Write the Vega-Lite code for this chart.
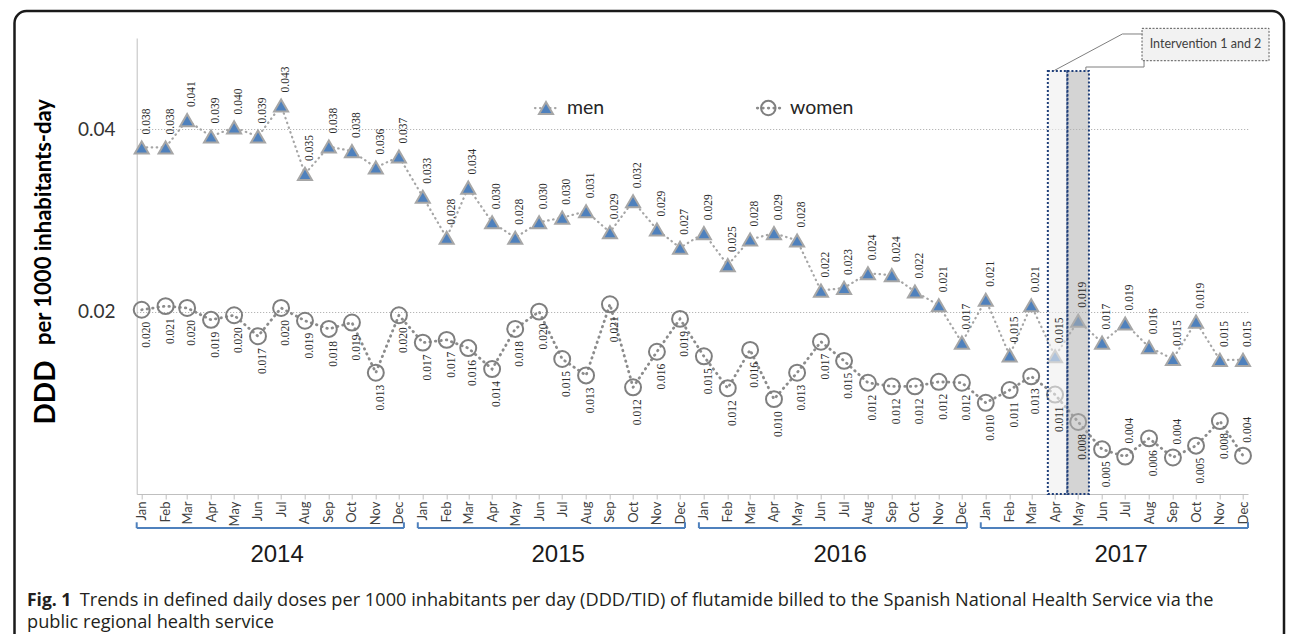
{
  "$schema": "https://vega.github.io/schema/vega-lite/v6.json",
  "width": 1111.3,
  "height": 456,
  "autosize": {"type": "none"},
  "padding": {"left": 136.7, "top": 38, "right": 44, "bottom": 140},
  "background": "white",
  "config": {"view": {"stroke": null}, "font": "Lato"},
  "datasets": {
    "ddd": [
      {"month": "2014-01-01", "sex": "men", "value": 0.0380},
      {"month": "2014-02-01", "sex": "men", "value": 0.0380},
      {"month": "2014-03-01", "sex": "men", "value": 0.0410},
      {"month": "2014-04-01", "sex": "men", "value": 0.0392},
      {"month": "2014-05-01", "sex": "men", "value": 0.0402},
      {"month": "2014-06-01", "sex": "men", "value": 0.0392},
      {"month": "2014-07-01", "sex": "men", "value": 0.0426},
      {"month": "2014-08-01", "sex": "men", "value": 0.0351},
      {"month": "2014-09-01", "sex": "men", "value": 0.0381},
      {"month": "2014-10-01", "sex": "men", "value": 0.0376},
      {"month": "2014-11-01", "sex": "men", "value": 0.0358},
      {"month": "2014-12-01", "sex": "men", "value": 0.0370},
      {"month": "2015-01-01", "sex": "men", "value": 0.0326},
      {"month": "2015-02-01", "sex": "men", "value": 0.0281},
      {"month": "2015-03-01", "sex": "men", "value": 0.0336},
      {"month": "2015-04-01", "sex": "men", "value": 0.0298},
      {"month": "2015-05-01", "sex": "men", "value": 0.0281},
      {"month": "2015-06-01", "sex": "men", "value": 0.0298},
      {"month": "2015-07-01", "sex": "men", "value": 0.0303},
      {"month": "2015-08-01", "sex": "men", "value": 0.0310},
      {"month": "2015-09-01", "sex": "men", "value": 0.0287},
      {"month": "2015-10-01", "sex": "men", "value": 0.0321},
      {"month": "2015-11-01", "sex": "men", "value": 0.0290},
      {"month": "2015-12-01", "sex": "men", "value": 0.0270},
      {"month": "2016-01-01", "sex": "men", "value": 0.0286},
      {"month": "2016-02-01", "sex": "men", "value": 0.0251},
      {"month": "2016-03-01", "sex": "men", "value": 0.0279},
      {"month": "2016-04-01", "sex": "men", "value": 0.0286},
      {"month": "2016-05-01", "sex": "men", "value": 0.0278},
      {"month": "2016-06-01", "sex": "men", "value": 0.0223},
      {"month": "2016-07-01", "sex": "men", "value": 0.0226},
      {"month": "2016-08-01", "sex": "men", "value": 0.0242},
      {"month": "2016-09-01", "sex": "men", "value": 0.0240},
      {"month": "2016-10-01", "sex": "men", "value": 0.0222},
      {"month": "2016-11-01", "sex": "men", "value": 0.0207},
      {"month": "2016-12-01", "sex": "men", "value": 0.0166},
      {"month": "2017-01-01", "sex": "men", "value": 0.0213},
      {"month": "2017-02-01", "sex": "men", "value": 0.0152},
      {"month": "2017-03-01", "sex": "men", "value": 0.0207},
      {"month": "2017-04-01", "sex": "men", "value": 0.0151},
      {"month": "2017-05-01", "sex": "men", "value": 0.0190},
      {"month": "2017-06-01", "sex": "men", "value": 0.0166},
      {"month": "2017-07-01", "sex": "men", "value": 0.0187},
      {"month": "2017-08-01", "sex": "men", "value": 0.0161},
      {"month": "2017-09-01", "sex": "men", "value": 0.0148},
      {"month": "2017-10-01", "sex": "men", "value": 0.0189},
      {"month": "2017-11-01", "sex": "men", "value": 0.0147},
      {"month": "2017-12-01", "sex": "men", "value": 0.0147},
      {"month": "2014-01-01", "sex": "women", "value": 0.0202},
      {"month": "2014-02-01", "sex": "women", "value": 0.0206},
      {"month": "2014-03-01", "sex": "women", "value": 0.0204},
      {"month": "2014-04-01", "sex": "women", "value": 0.0191},
      {"month": "2014-05-01", "sex": "women", "value": 0.0196},
      {"month": "2014-06-01", "sex": "women", "value": 0.0173},
      {"month": "2014-07-01", "sex": "women", "value": 0.0204},
      {"month": "2014-08-01", "sex": "women", "value": 0.0190},
      {"month": "2014-09-01", "sex": "women", "value": 0.0181},
      {"month": "2014-10-01", "sex": "women", "value": 0.0188},
      {"month": "2014-11-01", "sex": "women", "value": 0.0133},
      {"month": "2014-12-01", "sex": "women", "value": 0.0196},
      {"month": "2015-01-01", "sex": "women", "value": 0.0166},
      {"month": "2015-02-01", "sex": "women", "value": 0.0169},
      {"month": "2015-03-01", "sex": "women", "value": 0.0160},
      {"month": "2015-04-01", "sex": "women", "value": 0.0137},
      {"month": "2015-05-01", "sex": "women", "value": 0.0181},
      {"month": "2015-06-01", "sex": "women", "value": 0.0200},
      {"month": "2015-07-01", "sex": "women", "value": 0.0148},
      {"month": "2015-08-01", "sex": "women", "value": 0.0130},
      {"month": "2015-09-01", "sex": "women", "value": 0.0208},
      {"month": "2015-10-01", "sex": "women", "value": 0.0117},
      {"month": "2015-11-01", "sex": "women", "value": 0.0156},
      {"month": "2015-12-01", "sex": "women", "value": 0.0192},
      {"month": "2016-01-01", "sex": "women", "value": 0.0151},
      {"month": "2016-02-01", "sex": "women", "value": 0.0116},
      {"month": "2016-03-01", "sex": "women", "value": 0.0158},
      {"month": "2016-04-01", "sex": "women", "value": 0.0104},
      {"month": "2016-05-01", "sex": "women", "value": 0.0133},
      {"month": "2016-06-01", "sex": "women", "value": 0.0167},
      {"month": "2016-07-01", "sex": "women", "value": 0.0146},
      {"month": "2016-08-01", "sex": "women", "value": 0.0122},
      {"month": "2016-09-01", "sex": "women", "value": 0.0118},
      {"month": "2016-10-01", "sex": "women", "value": 0.0118},
      {"month": "2016-11-01", "sex": "women", "value": 0.0123},
      {"month": "2016-12-01", "sex": "women", "value": 0.0122},
      {"month": "2017-01-01", "sex": "women", "value": 0.0100},
      {"month": "2017-02-01", "sex": "women", "value": 0.0114},
      {"month": "2017-03-01", "sex": "women", "value": 0.0129},
      {"month": "2017-04-01", "sex": "women", "value": 0.0109},
      {"month": "2017-05-01", "sex": "women", "value": 0.0079},
      {"month": "2017-06-01", "sex": "women", "value": 0.0049},
      {"month": "2017-07-01", "sex": "women", "value": 0.0041},
      {"month": "2017-08-01", "sex": "women", "value": 0.0061},
      {"month": "2017-09-01", "sex": "women", "value": 0.0040},
      {"month": "2017-10-01", "sex": "women", "value": 0.0053},
      {"month": "2017-11-01", "sex": "women", "value": 0.0080},
      {"month": "2017-12-01", "sex": "women", "value": 0.0042}
    ],
    "years": [
      {"year": "2014", "start": "2014-01-01", "end": "2014-12-01", "mid": "2014-07-01"},
      {"year": "2015", "start": "2015-01-01", "end": "2015-12-01", "mid": "2015-07-01"},
      {"year": "2016", "start": "2016-01-01", "end": "2016-12-01", "mid": "2016-07-01"},
      {"year": "2017", "start": "2017-01-01", "end": "2017-12-01", "mid": "2017-07-01"}
    ]
  },
  "data": {"name": "ddd"},
  "layer": [
    {
      "data": {"values": [{}]},
      "mark": {"type": "rect", "fill": "transparent", "stroke": "#1a1a1a", "strokeWidth": 2.5, "cornerRadius": 12, "xOffset": -127.2, "x2Offset": 41},
      "encoding": {
        "x": {"datum": {"year": 2014, "month": 1, "date": 1, "utc": true}, "type": "temporal"},
        "x2": {"datum": {"year": 2017, "month": 12, "date": 1, "utc": true}},
        "y": {"datum": 0.05296, "type": "quantitative"},
        "y2": {"datum": -0.0166}
      }
    },
    {
      "transform": [{"filter": "datum.sex === 'men'"}],
      "mark": {"type": "line", "stroke": "#a6a6a6", "strokeWidth": 2.2, "strokeDash": [0.5, 4.5], "strokeCap": "round"},
      "encoding": {
        "x": {
          "field": "month", "type": "temporal",
          "scale": {"type": "utc", "domain": [{"year": 2014, "month": 1, "date": 1, "utc": true}, {"year": 2017, "month": 12, "date": 1, "utc": true}], "nice": false},
          "axis": {
            "title": null, "format": "%b", "tickCount": {"interval": "month", "step": 1},
            "labelAngle": 270, "labelFont": "Lato", "labelFontSize": 13, "labelColor": "#404040",
            "labelPadding": 2, "tickSize": 5, "tickColor": "#bfbfbf", "domainColor": "#bfbfbf",
            "grid": false, "labelOverlap": false, "labelFlush": false
          }
        },
        "y": {
          "field": "value", "type": "quantitative",
          "scale": {"domain": [0, 0.05], "nice": false, "zero": false},
          "axis": {
            "title": "per 1000 inhabitants-day", "values": [0.02, 0.04], "format": ".2f",
            "grid": true, "gridColor": "#a6a6a6", "gridDash": [1, 2], "gridWidth": 1,
            "ticks": false, "domainColor": "#bfbfbf",
            "labelFont": "Lato", "labelFontSize": 19, "labelColor": "#333333", "labelPadding": 21.7,
            "titleFont": "Lato", "titleFontSize": 22, "titleFontWeight": "bold", "titleColor": "#000000",
            "titleAngle": 270, "titleAlign": "center", "titleBaseline": "alphabetic",
            "titleX": -86.7, "titleY": 183.5
          }
        }
      }
    },
    {
      "transform": [{"filter": "datum.sex === 'women'"}],
      "mark": {"type": "line", "stroke": "#8c8c8c", "strokeWidth": 2.8, "strokeDash": [0.5, 5], "strokeCap": "round"},
      "encoding": {
        "x": {"field": "month", "type": "temporal"},
        "y": {"field": "value", "type": "quantitative"}
      }
    },
    {
      "mark": {"type": "point", "strokeWidth": 2, "opacity": 1},
      "encoding": {
        "x": {"field": "month", "type": "temporal"},
        "y": {"field": "value", "type": "quantitative"},
        "shape": {"field": "sex", "type": "nominal", "scale": {"domain": ["men", "women"], "range": ["triangle-up", "circle"]}, "legend": null},
        "fill": {"field": "sex", "type": "nominal", "scale": {"domain": ["men", "women"], "range": ["#4f81bd", "transparent"]}, "legend": null},
        "stroke": {"field": "sex", "type": "nominal", "scale": {"domain": ["men", "women"], "range": ["#a6a6a6", "#7f7f7f"]}, "legend": null},
        "size": {"field": "sex", "type": "nominal", "scale": {"domain": ["men", "women"], "range": [196, 254]}, "legend": null}
      }
    },
    {
      "data": {"values": [{}]},
      "mark": {"type": "bar", "width": 19.5, "xOffset": 2.5, "fill": "#eeeeee", "fillOpacity": 0.6, "stroke": "#1f3f7a", "strokeWidth": 2, "strokeDash": [2, 2]},
      "encoding": {
        "x": {"datum": {"year": 2017, "month": 4, "date": 1, "utc": true}, "type": "temporal"},
        "y": {"datum": 0.04638, "type": "quantitative"},
        "y2": {"datum": 0}
      }
    },
    {
      "data": {"values": [{}]},
      "mark": {"type": "bar", "width": 21.5, "fill": "#b0b0b0", "fillOpacity": 0.55, "stroke": "#1f3f7a", "strokeWidth": 2, "strokeDash": [2, 2]},
      "encoding": {
        "x": {"datum": {"year": 2017, "month": 5, "date": 1, "utc": true}, "type": "temporal"},
        "y": {"datum": 0.04638, "type": "quantitative"},
        "y2": {"datum": 0}
      }
    },
    {
      "transform": [{"filter": "datum.sex === 'men'"}],
      "mark": {"type": "text", "angle": 270, "align": "left", "baseline": "middle", "dx": 13, "dy": 5, "font": "Liberation Serif", "fontSize": 11.5, "fill": "#2b2b2b"},
      "encoding": {
        "x": {"field": "month", "type": "temporal"},
        "y": {"field": "value", "type": "quantitative"},
        "text": {"field": "value", "type": "quantitative", "format": ".3f"}
      }
    },
    {
      "transform": [{"filter": "datum.sex === 'women' && datum.value >= 0.0045"}],
      "mark": {"type": "text", "angle": 270, "align": "right", "baseline": "middle", "dx": -12, "dy": 5, "font": "Liberation Serif", "fontSize": 11.5, "fill": "#2b2b2b"},
      "encoding": {
        "x": {"field": "month", "type": "temporal"},
        "y": {"field": "value", "type": "quantitative"},
        "text": {"field": "value", "type": "quantitative", "format": ".3f"}
      }
    },
    {
      "transform": [{"filter": "datum.sex === 'women' && datum.value < 0.0045"}],
      "mark": {"type": "text", "angle": 270, "align": "left", "baseline": "middle", "dx": 13, "dy": 5, "font": "Liberation Serif", "fontSize": 11.5, "fill": "#2b2b2b"},
      "encoding": {
        "x": {"field": "month", "type": "temporal"},
        "y": {"field": "value", "type": "quantitative"},
        "text": {"field": "value", "type": "quantitative", "format": ".3f"}
      }
    },
    {
      "data": {"values": [{}]},
      "mark": {"type": "rule", "stroke": "#a6a6a6", "strokeWidth": 2.2, "strokeDash": [0.5, 4.5], "strokeCap": "round", "xOffset": 393.3, "x2Offset": 416.3},
      "encoding": {
        "x": {"datum": {"year": 2014, "month": 1, "date": 1, "utc": true}, "type": "temporal"},
        "x2": {"datum": {"year": 2014, "month": 1, "date": 1, "utc": true}},
        "y": {"datum": 0.04232, "type": "quantitative"}
      }
    },
    {
      "data": {"values": [{}]},
      "mark": {"type": "rule", "stroke": "#8c8c8c", "strokeWidth": 2.8, "strokeDash": [0.5, 5], "strokeCap": "round", "xOffset": 615.6, "x2Offset": 638.6},
      "encoding": {
        "x": {"datum": {"year": 2014, "month": 1, "date": 1, "utc": true}, "type": "temporal"},
        "x2": {"datum": {"year": 2014, "month": 1, "date": 1, "utc": true}},
        "y": {"datum": 0.04232, "type": "quantitative"}
      }
    },
    {
      "data": {"values": [{"sex": "men"}]},
      "mark": {"type": "point", "strokeWidth": 2, "opacity": 1, "size": 196, "xOffset": 404.3},
      "encoding": {
        "x": {"datum": {"year": 2014, "month": 1, "date": 1, "utc": true}, "type": "temporal"},
        "y": {"datum": 0.04232, "type": "quantitative"},
        "shape": {"field": "sex", "type": "nominal", "legend": null},
        "fill": {"field": "sex", "type": "nominal", "legend": null},
        "stroke": {"field": "sex", "type": "nominal", "legend": null}
      }
    },
    {
      "data": {"values": [{"sex": "women"}]},
      "mark": {"type": "point", "strokeWidth": 2, "opacity": 1, "size": 210, "xOffset": 626.6},
      "encoding": {
        "x": {"datum": {"year": 2014, "month": 1, "date": 1, "utc": true}, "type": "temporal"},
        "y": {"datum": 0.04232, "type": "quantitative"},
        "shape": {"field": "sex", "type": "nominal", "legend": null},
        "fill": {"field": "sex", "type": "nominal", "legend": null},
        "stroke": {"field": "sex", "type": "nominal", "legend": null}
      }
    },
    {
      "data": {"values": [{"sex": "men"}]},
      "mark": {"type": "text", "align": "left", "baseline": "middle", "xOffset": 425.3, "font": "Lato", "fontSize": 19.5, "fill": "#262626"},
      "encoding": {
        "x": {"datum": {"year": 2014, "month": 1, "date": 1, "utc": true}, "type": "temporal"},
        "y": {"datum": 0.04232, "type": "quantitative"},
        "text": {"field": "sex"}
      }
    },
    {
      "data": {"values": [{"sex": "women"}]},
      "mark": {"type": "text", "align": "left", "baseline": "middle", "xOffset": 648.3, "font": "Lato", "fontSize": 19.5, "fill": "#262626"},
      "encoding": {
        "x": {"datum": {"year": 2014, "month": 1, "date": 1, "utc": true}, "type": "temporal"},
        "y": {"datum": 0.04232, "type": "quantitative"},
        "text": {"field": "sex"}
      }
    },
    {
      "data": {"name": "years"},
      "mark": {"type": "rule", "stroke": "#4f81bd", "strokeWidth": 2, "xOffset": -5, "x2Offset": 5},
      "encoding": {
        "x": {"field": "start", "type": "temporal"},
        "x2": {"field": "end"},
        "y": {"datum": -0.00373, "type": "quantitative"}
      }
    },
    {
      "data": {"name": "years"},
      "mark": {"type": "rule", "stroke": "#4f81bd", "strokeWidth": 2, "xOffset": -5},
      "encoding": {
        "x": {"field": "start", "type": "temporal"},
        "y": {"datum": -0.00373, "type": "quantitative"},
        "y2": {"datum": -0.0031}
      }
    },
    {
      "data": {"name": "years"},
      "mark": {"type": "rule", "stroke": "#4f81bd", "strokeWidth": 2, "xOffset": 5},
      "encoding": {
        "x": {"field": "end", "type": "temporal"},
        "y": {"datum": -0.00373, "type": "quantitative"},
        "y2": {"datum": -0.0031}
      }
    },
    {
      "data": {"name": "years"},
      "mark": {"type": "text", "xOffset": -4, "align": "center", "baseline": "middle", "font": "Liberation Sans", "fontSize": 24, "fill": "#1a1a1a"},
      "encoding": {
        "x": {"field": "mid", "type": "temporal"},
        "y": {"datum": -0.00669, "type": "quantitative"},
        "text": {"field": "year"}
      }
    },
    {
      "data": {"values": [{}]},
      "mark": {"type": "bar", "width": 127, "xOffset": 9.5, "fill": "#f2f2f2", "stroke": "#595959", "strokeWidth": 1, "strokeDash": [2, 1.5]},
      "encoding": {
        "x": {"datum": {"year": 2017, "month": 10, "date": 1, "utc": true}, "type": "temporal"},
        "y": {"datum": 0.05106, "type": "quantitative"},
        "y2": {"datum": 0.04751}
      }
    },
    {
      "data": {"values": [{}]},
      "mark": {"type": "text", "text": "Intervention 1 and 2", "xOffset": 9.5, "align": "center", "baseline": "middle", "font": "Lato", "fontSize": 12.5, "fill": "#404040"},
      "encoding": {
        "x": {"datum": {"year": 2017, "month": 10, "date": 1, "utc": true}, "type": "temporal"},
        "y": {"datum": 0.04929, "type": "quantitative"}
      }
    },
    {
      "data": {"values": [{}]},
      "mark": {"type": "rule", "stroke": "#7f7f7f", "strokeWidth": 1, "xOffset": -2.8, "x2Offset": -6.4},
      "encoding": {
        "x": {"datum": {"year": 2017, "month": 7, "date": 1, "utc": true}, "type": "temporal"},
        "x2": {"datum": {"year": 2017, "month": 8, "date": 1, "utc": true}},
        "y": {"datum": 0.05044, "type": "quantitative"}
      }
    },
    {
      "data": {"values": [{}]},
      "mark": {"type": "rule", "stroke": "#7f7f7f", "strokeWidth": 1, "xOffset": -2.8, "x2Offset": -0.7},
      "encoding": {
        "x": {"datum": {"year": 2017, "month": 7, "date": 1, "utc": true}, "type": "temporal"},
        "x2": {"datum": {"year": 2017, "month": 4, "date": 1, "utc": true}},
        "y": {"datum": 0.05044, "type": "quantitative"},
        "y2": {"datum": 0.04644}
      }
    },
    {
      "data": {"values": [{}]},
      "mark": {"type": "rule", "stroke": "#7f7f7f", "strokeWidth": 1, "xOffset": -5},
      "encoding": {
        "x": {"datum": {"year": 2017, "month": 8, "date": 1, "utc": true}, "type": "temporal"},
        "y": {"datum": 0.04751, "type": "quantitative"},
        "y2": {"datum": 0.04682}
      }
    },
    {
      "data": {"values": [{}]},
      "mark": {"type": "rule", "stroke": "#7f7f7f", "strokeWidth": 1, "xOffset": 7.7, "x2Offset": -5},
      "encoding": {
        "x": {"datum": {"year": 2017, "month": 5, "date": 1, "utc": true}, "type": "temporal"},
        "x2": {"datum": {"year": 2017, "month": 8, "date": 1, "utc": true}},
        "y": {"datum": 0.04682, "type": "quantitative"}
      }
    },
    {
      "data": {"values": [{}]},
      "mark": {"type": "rule", "stroke": "#7f7f7f", "strokeWidth": 1, "xOffset": 7.7},
      "encoding": {
        "x": {"datum": {"year": 2017, "month": 5, "date": 1, "utc": true}, "type": "temporal"},
        "y": {"datum": 0.04682, "type": "quantitative"},
        "y2": {"datum": 0.04638}
      }
    },
    {
      "data": {"values": [{}]},
      "mark": {"type": "text", "text": "DDD", "angle": 270, "align": "center", "baseline": "alphabetic", "xOffset": -86.7, "font": "Lato", "fontSize": 28, "fontWeight": "bold", "fill": "#000000"},
      "encoding": {
        "x": {"datum": {"year": 2014, "month": 1, "date": 1, "utc": true}, "type": "temporal"},
        "y": {"datum": 0.01113, "type": "quantitative"}
      }
    },
    {
      "data": {"values": [{}]},
      "mark": {"type": "text", "text": "Fig. 1", "align": "left", "baseline": "alphabetic", "xOffset": -114.7, "font": "Open Sans", "fontSize": 17.5, "fontWeight": "bold", "fill": "#231f20"},
      "encoding": {
        "x": {"datum": {"year": 2014, "month": 1, "date": 1, "utc": true}, "type": "temporal"},
        "y": {"datum": -0.01228, "type": "quantitative"}
      }
    },
    {
      "data": {"values": [{}]},
      "mark": {"type": "text", "text": "Trends in defined daily doses per 1000 inhabitants per day (DDD/TID) of flutamide billed to the Spanish National Health Service via the", "align": "left", "baseline": "alphabetic", "xOffset": -62, "font": "Open Sans", "fontSize": 18.2, "fill": "#231f20"},
      "encoding": {
        "x": {"datum": {"year": 2014, "month": 1, "date": 1, "utc": true}, "type": "temporal"},
        "y": {"datum": -0.01228, "type": "quantitative"}
      }
    },
    {
      "data": {"values": [{}]},
      "mark": {"type": "text", "text": "public regional health service", "align": "left", "baseline": "alphabetic", "xOffset": -114.7, "font": "Open Sans", "fontSize": 18.2, "fill": "#231f20"},
      "encoding": {
        "x": {"datum": {"year": 2014, "month": 1, "date": 1, "utc": true}, "type": "temporal"},
        "y": {"datum": -0.01469, "type": "quantitative"}
      }
    }
  ]
}
